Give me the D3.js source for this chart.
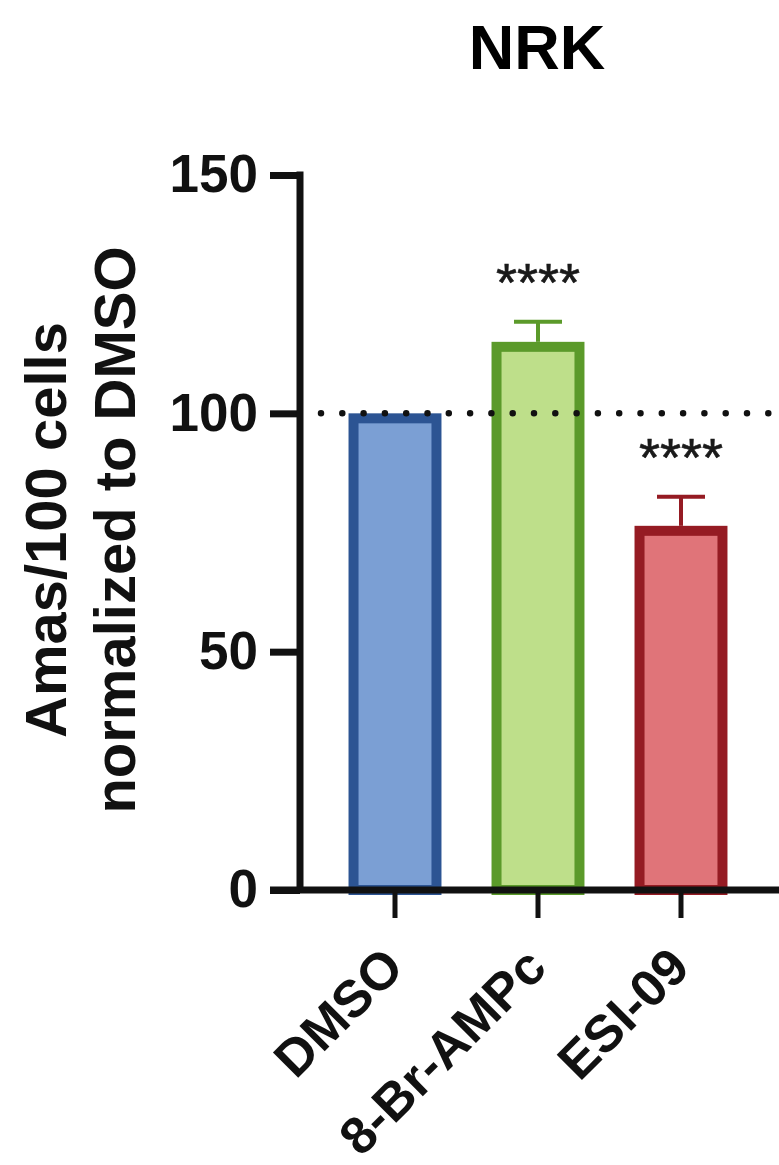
<!DOCTYPE html>
<html>
<head>
<meta charset="utf-8">
<script src="https://cdn.jsdelivr.net/npm/d3@7"></script>
<style>
  html, body { margin: 0; padding: 0; background: #fff; }
  svg { display: block; font-family: "Liberation Sans", Arial, Helvetica, sans-serif; }
</style>
</head>
<body>
<svg id="chart" width="779" height="1165"></svg>
<script>
// Amas per 100 cells, normalized to DMSO (NRK cells)
const categories = ["DMSO", "8-Br-AMPc", "ESI-09"];
const means = [100, 115.0, 76.4];
const errors = [0, 4.2, 6.1];
const significance = ["", "****", "****"];
const yTicks = [0, 50, 100, 150];
const referenceLevel = 100;

const fills = ["#7B9FD4", "#BEDF8A", "#E07479"];
const borders = ["#2C5493", "#5B9A2A", "#951B23"];

const svg = d3.select("#chart");

const axisX = 300;      // y axis position
const x = d3.scaleBand()
  .domain(categories)
  .range([323.5, 752.5])
  .paddingInner(0.35)
  .paddingOuter(0.175);

const y = d3.scaleLinear().domain([0, 150]).range([890, 175]);

const axisW = 7;
const barSW = 10;

// Title
svg.append("text")
  .attr("x", 537).attr("y", 69)
  .attr("text-anchor", "middle")
  .attr("font-weight", "bold")
  .attr("font-size", 63)
  .text("NRK");

// Bars (border drawn inside the value edge)
const bars = svg.append("g");
bars.selectAll("rect")
  .data(categories)
  .join("rect")
  .attr("x", (d) => x(d) + barSW / 2)
  .attr("y", (d, i) => y(means[i]) + barSW / 2)
  .attr("width", x.bandwidth() - barSW)
  .attr("height", (d, i) => y(0) - y(means[i]) - barSW / 2)
  .attr("fill", (d, i) => fills[i])
  .attr("stroke", (d, i) => borders[i])
  .attr("stroke-width", barSW);

// Error bars (upper side only)
const eb = svg.append("g");
categories.forEach((c, i) => {
  if (!errors[i]) return;
  const cx = x(c) + x.bandwidth() / 2;
  const top = y(means[i] + errors[i]);
  eb.append("line")
    .attr("x1", cx).attr("x2", cx)
    .attr("y1", y(means[i])).attr("y2", top)
    .attr("stroke", borders[i]).attr("stroke-width", 4);
  eb.append("line")
    .attr("x1", cx - 24).attr("x2", cx + 24)
    .attr("y1", top).attr("y2", top)
    .attr("stroke", borders[i]).attr("stroke-width", 4);
});

// Dotted reference line at 100
svg.append("line")
  .attr("x1", 321).attr("x2", 790)
  .attr("y1", y(referenceLevel)).attr("y2", y(referenceLevel))
  .attr("stroke", "#111")
  .attr("stroke-width", 6.5)
  .attr("stroke-linecap", "round")
  .attr("stroke-dasharray", "0 21.3");

// Significance marks
svg.append("g").selectAll("text")
  .data(categories)
  .join("text")
  .attr("x", (d) => x(d) + x.bandwidth() / 2)
  .attr("y", (d, i) => y(means[i] + errors[i]) - 21)
  .attr("text-anchor", "middle")
  .attr("font-size", 54)
  .attr("fill", "#1a1a1a")
  .attr("stroke", "#1a1a1a")
  .attr("stroke-width", 0.6)
  .text((d, i) => significance[i]);

// Y axis
const yAxis = d3.axisLeft(y)
  .tickValues(yTicks)
  .tickSize(30)
  .tickPadding(12)
  .tickFormat(d3.format("d"));
const gy = svg.append("g")
  .attr("transform", `translate(${axisX},0)`)
  .call(yAxis);
gy.select(".domain").remove();
gy.selectAll(".tick line").attr("stroke", "#111").attr("stroke-width", axisW);
gy.selectAll(".tick text")
  .attr("font-size", 53).attr("font-weight", "bold")
  .attr("fill", "#111")
  .attr("font-family", "Liberation Sans, Arial, sans-serif");
gy.append("line")
  .attr("x1", 0).attr("x2", 0)
  .attr("y1", y(150) - axisW / 2).attr("y2", y(0))
  .attr("stroke", "#111").attr("stroke-width", axisW);

// X axis
const xAxis = d3.axisBottom(x).tickSize(28).tickFormat("");
const gx = svg.append("g")
  .attr("transform", `translate(0,${y(0)})`)
  .call(xAxis);
gx.select(".domain").remove();
gx.selectAll(".tick line").attr("stroke", "#111").attr("stroke-width", 5);
gx.append("line")
  .attr("x1", 270).attr("x2", 790)
  .attr("y1", 0).attr("y2", 0)
  .attr("stroke", "#111").attr("stroke-width", axisW);

// Category labels, rotated
svg.append("g").selectAll("text")
  .data(categories)
  .join("text")
  .attr("transform", (d) => `translate(${x(d) + x.bandwidth() / 2 + 11},970) rotate(-45)`)
  .attr("text-anchor", "end")
  .attr("font-size", 52)
  .attr("font-weight", "bold")
  .attr("fill", "#111")
  .text((d) => d);

// Y axis title (two lines)
const yTitle = ["Amas/100 cells", "normalized to DMSO"];
svg.append("g").selectAll("text")
  .data(yTitle)
  .join("text")
  .attr("transform", (d, i) => `translate(${66 + i * 69},530) rotate(-90)`)
  .attr("text-anchor", "middle")
  .attr("font-size", 58)
  .attr("font-weight", "bold")
  .attr("fill", "#111")
  .text((d) => d);
</script>
</body>
</html>
